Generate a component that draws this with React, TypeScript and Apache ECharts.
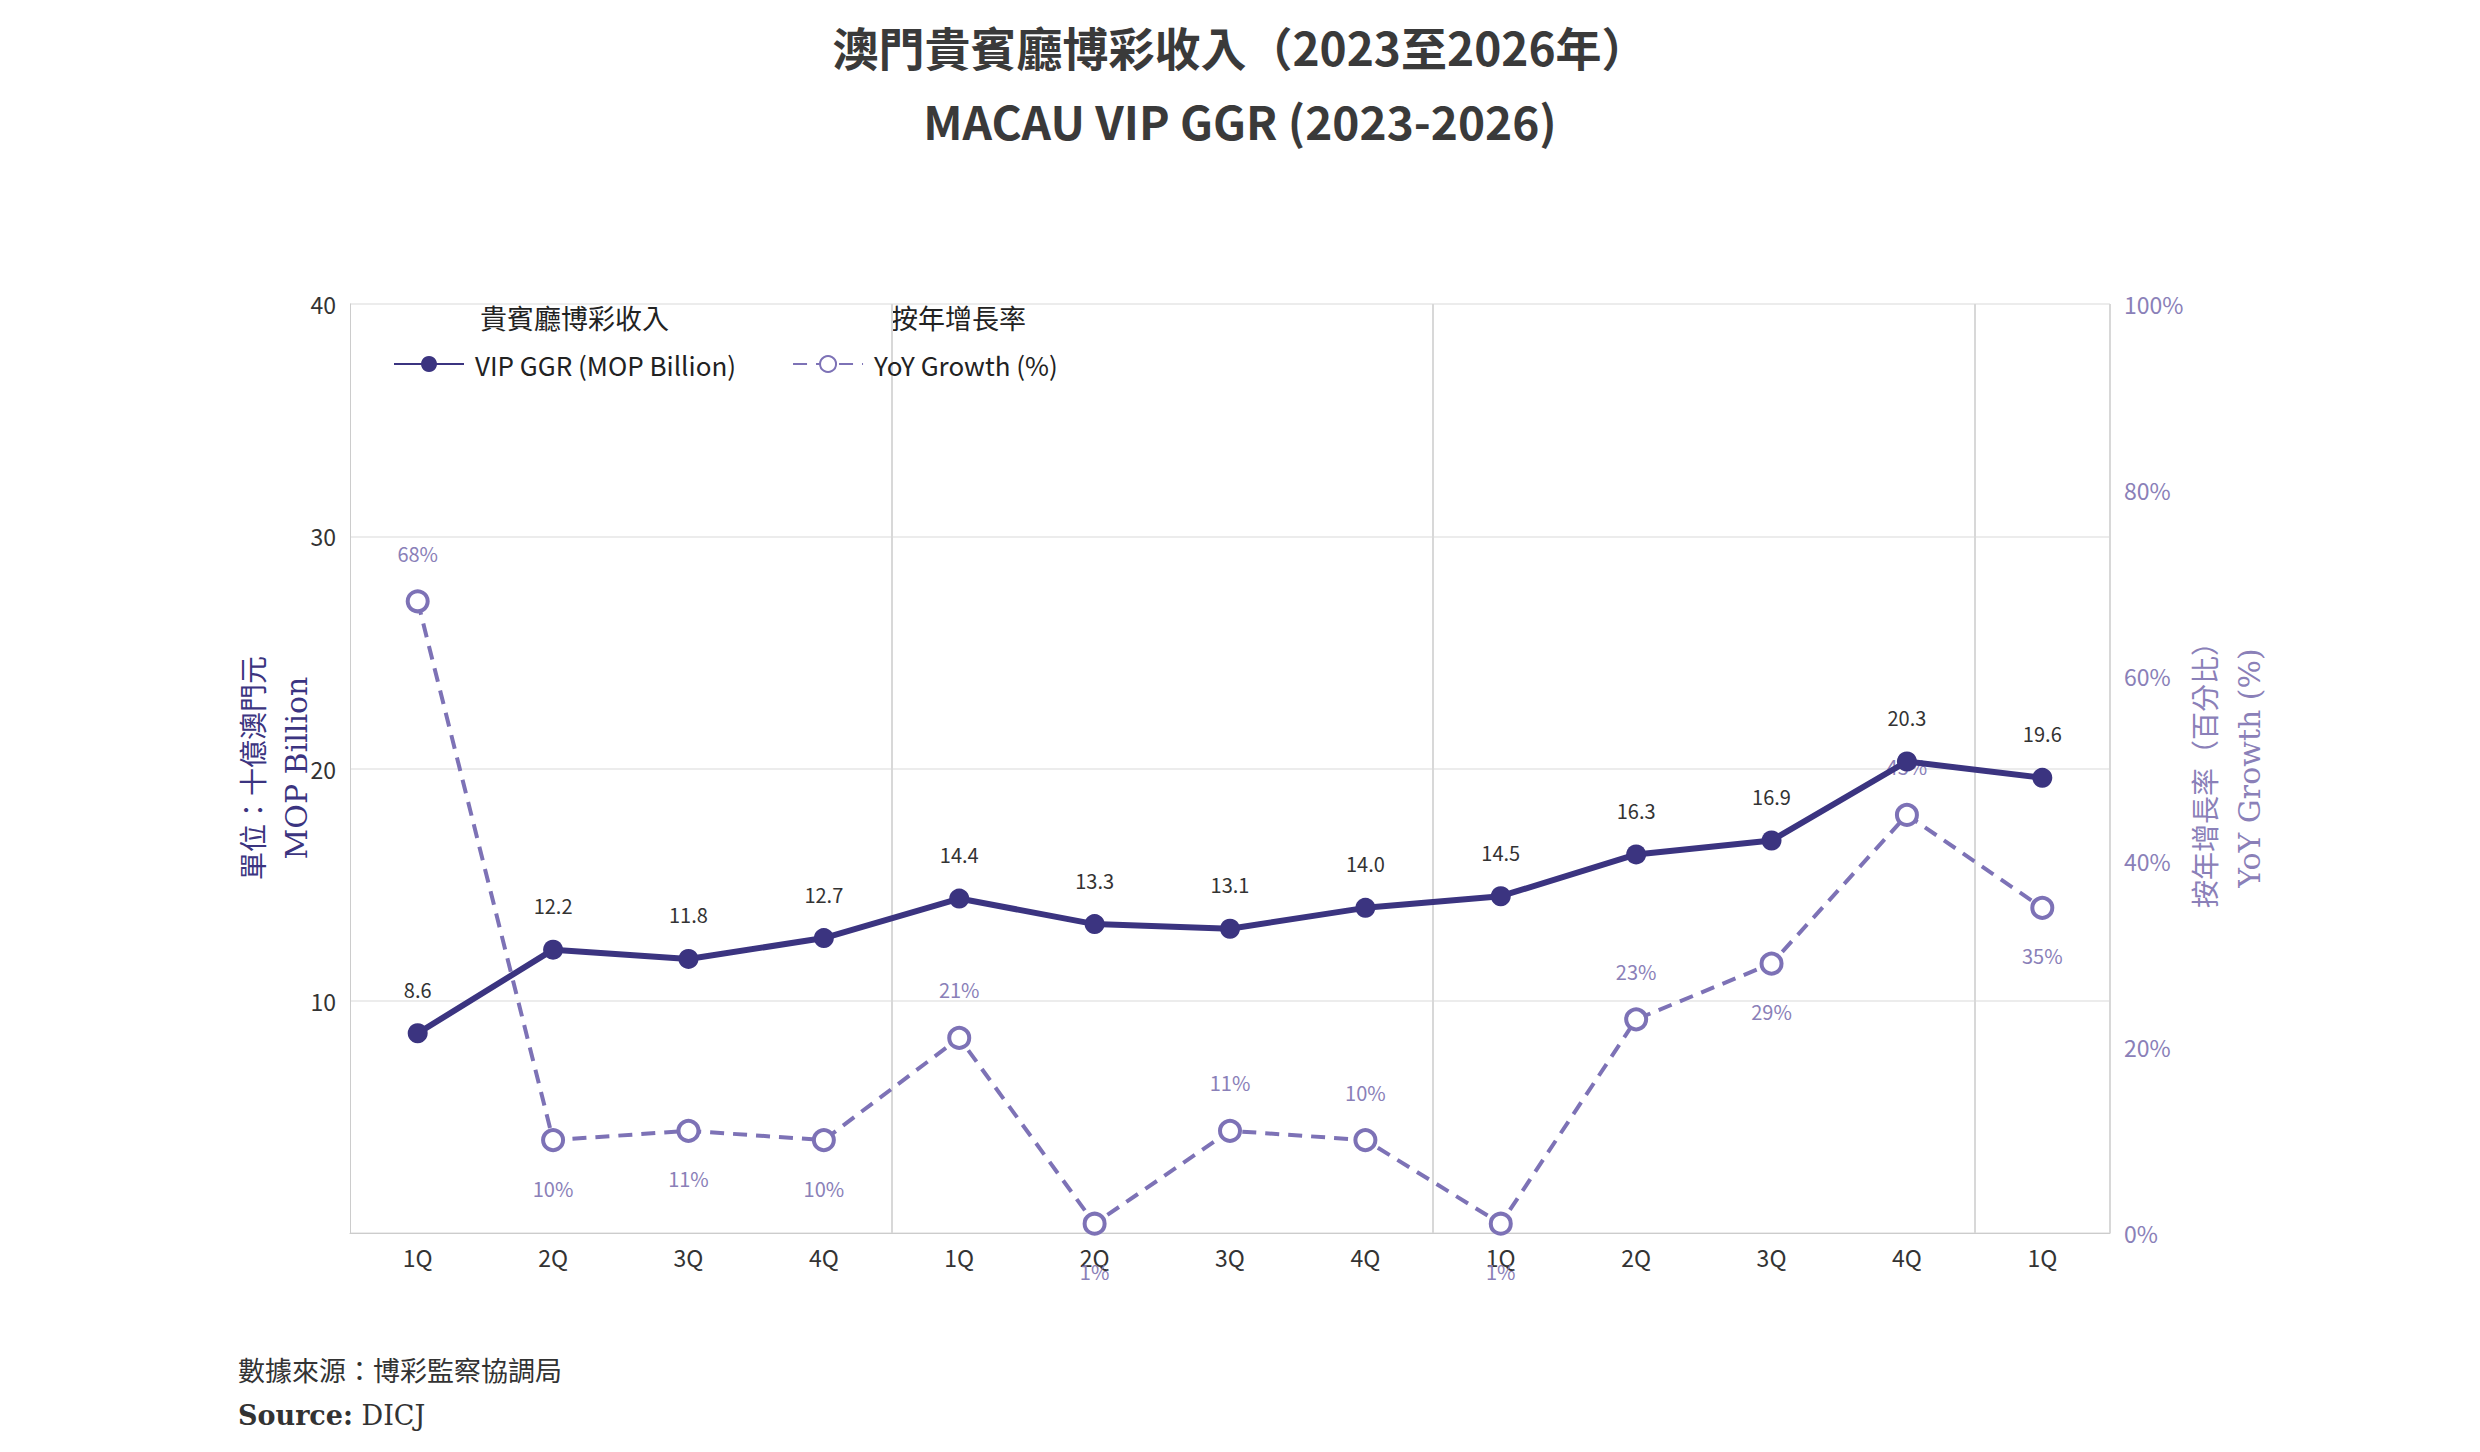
import React, { useEffect, useRef } from "react";
import * as echarts from "echarts";

const categories = ["1Q", "2Q", "3Q", "4Q", "1Q", "2Q", "3Q", "4Q", "1Q", "2Q", "3Q", "4Q", "1Q"];
const vipGgr = [8.6, 12.2, 11.8, 12.7, 14.4, 13.3, 13.1, 14.0, 14.5, 16.3, 16.9, 20.3, 19.6];
const yoyGrowth = [68, 10, 11, 10, 21, 1, 11, 10, 1, 23, 29, 45, 35];
const yoyLabelAbove = [true, false, false, false, true, false, true, true, false, true, false, true, false];

const DARK = "#3b3480";
const LIGHT = "#7d72b6";
const SANS = "'Noto Sans CJK TC', 'Noto Sans', sans-serif";
const SERIF = "'DejaVu Serif', 'Liberation Serif', serif";

export default function App() {
  const ref = useRef<HTMLDivElement>(null);
  useEffect(() => {
    const chart = echarts.init(ref.current!, null, { renderer: "svg" });
    chart.setOption({
      animation: false,
      backgroundColor: "#fff",
      title: [
        { text: "澳門貴賓廳博彩收入（2023至2026年）", left: "center", top: 10,
          textStyle: { fontFamily: SANS, fontWeight: "bold", fontSize: 46, color: "#3a3a3a" } },
        { text: "MACAU VIP GGR (2023-2026)", left: "center", top: 84,
          textStyle: { fontFamily: SANS, fontWeight: "bold", fontSize: 46, color: "#3a3a3a" } },
      ],
      grid: { left: 342, right: 362, top: 296, bottom: 211 },
      legend: {
        left: 380, top: 338, itemGap: 56, itemWidth: 70, itemHeight: 20,
        textStyle: { fontFamily: SANS, fontSize: 26, color: "#222", padding: [0, 0, 0, 6] },
        data: ["VIP GGR (MOP Billion)", "YoY Growth (%)"],
      },
      xAxis: {
        type: "category", data: categories, boundaryGap: true,
        axisLine: { lineStyle: { color: "#ccc" } }, axisTick: { show: false },
        axisLabel: { fontFamily: SANS, fontSize: 23, color: "#333", margin: 12 },
        splitLine: { show: true, interval: (i: number) => i === 4 || i === 8 || i === 12,
          lineStyle: { color: "#d8d8d8", width: 2 } },
      },
      yAxis: [
        { type: "value", min: 0, max: 40, interval: 10,
          axisLabel: { fontFamily: SANS, fontSize: 23, color: "#333", showMinLabel: false, margin: 14 },
          axisLine: { show: true, lineStyle: { color: "#ccc" } },
          splitLine: { lineStyle: { color: "#ececec", width: 2 } } },
        { type: "value", min: 0, max: 100, interval: 20,
          axisLabel: { formatter: "{value}%", fontFamily: SANS, fontSize: 23, color: "#8a80b8", margin: 14 },
          axisLine: { show: false }, splitLine: { show: false } },
      ],
      series: [
        { name: "VIP GGR (MOP Billion)", type: "line", data: vipGgr, yAxisIndex: 0, z: 3,
          symbol: "circle", symbolSize: 20,
          lineStyle: { color: DARK, width: 6 }, itemStyle: { color: DARK },
          label: { show: true, position: "top", distance: 24, fontFamily: SANS, fontSize: 20, color: "#333",
            formatter: (p: any) => p.value.toFixed(1) } },
        { name: "YoY Growth (%)", type: "line", data: yoyGrowth.map((v, i) => ({ value: v,
            label: { position: yoyLabelAbove[i] ? "top" : "bottom" } })), yAxisIndex: 1, z: 2,
          symbol: "circle", symbolSize: 20,
          lineStyle: { color: LIGHT, width: 4, type: [14, 9] },
          itemStyle: { color: "#fff", borderColor: LIGHT, borderWidth: 4 },
          label: { show: true, distance: 26, fontFamily: SANS, fontSize: 20, color: "#8a80b8",
            formatter: (p: any) => p.value + "%" } },
      ],
      graphic: [
        { type: "text", left: 472, top: 296, style: { text: "貴賓廳博彩收入", font: `27px ${SANS}`, fill: "#222" } },
        { type: "text", left: 883, top: 296, style: { text: "按年增長率", font: `27px ${SANS}`, fill: "#222" } },
        { type: "text", rotation: Math.PI / 2, position: [244, 760],
          style: { text: "單位：十億澳門元", font: `28px ${SANS}`, fill: DARK, align: "center", verticalAlign: "middle" } },
        { type: "text", rotation: Math.PI / 2, position: [288, 760],
          style: { text: "MOP Billion", font: `30px ${SERIF}`, fill: DARK, align: "center", verticalAlign: "middle" } },
        { type: "text", rotation: Math.PI / 2, position: [2196, 760],
          style: { text: "按年增長率（百分比）", font: `28px ${SANS}`, fill: "#8a80b8", align: "center", verticalAlign: "middle" } },
        { type: "text", rotation: Math.PI / 2, position: [2241, 760],
          style: { text: "YoY Growth (%)", font: `30px ${SERIF}`, fill: "#8a80b8", align: "center", verticalAlign: "middle" } },
        { type: "text", left: 230, top: 1348, style: { text: "數據來源：博彩監察協調局", font: `27px ${SANS}`, fill: "#333" } },
        { type: "text", left: 230, top: 1394, style: { text: "{b|Source:} DICJ", font: `27px ${SERIF}`, fill: "#333",
          rich: { b: { fontWeight: "bold", fontFamily: SERIF, fontSize: 27, fill: "#333" } } } },
      ],
    });
    return () => chart.dispose();
  }, []);
  return <div ref={ref} style={{ width: 2464, height: 1436 }} />;
}
